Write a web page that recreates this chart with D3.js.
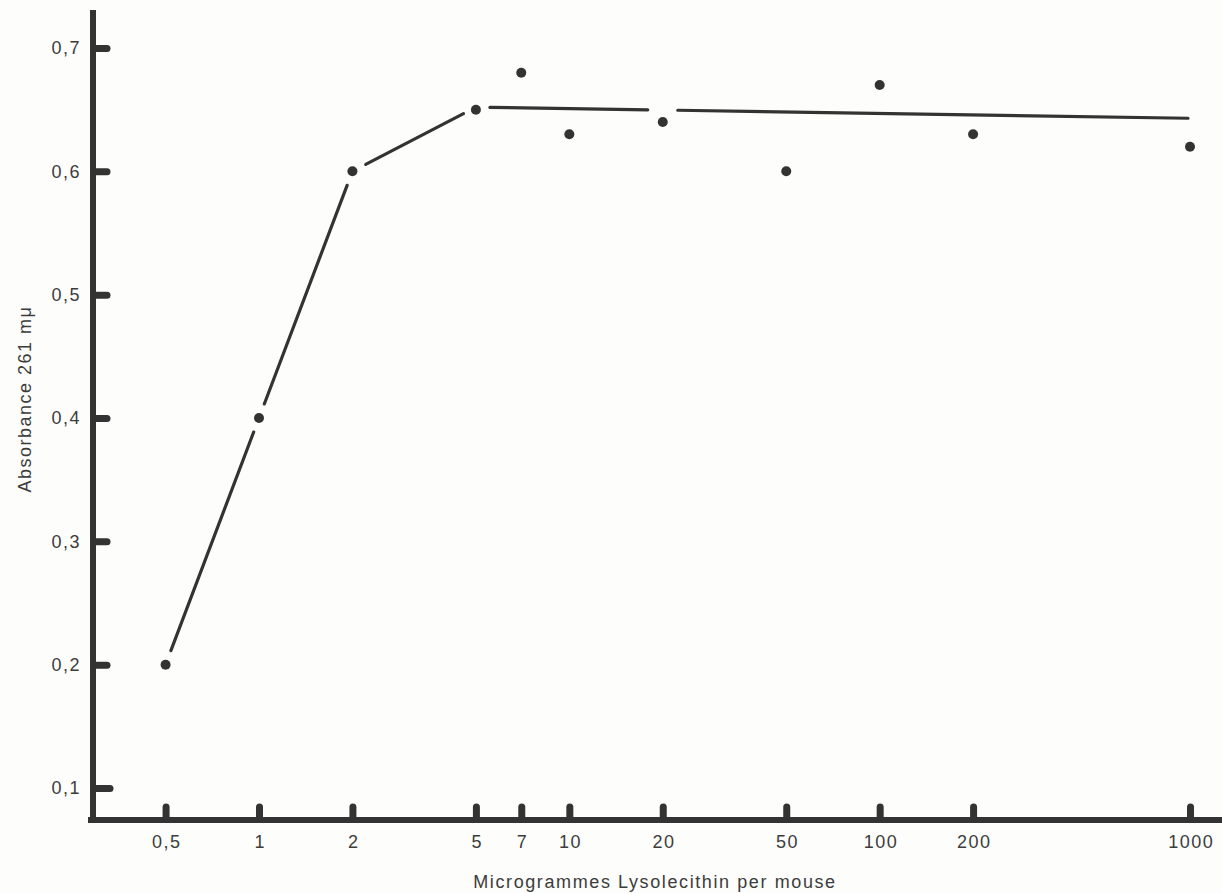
<!DOCTYPE html>
<html>
<head>
<meta charset="utf-8">
<script src="https://cdn.jsdelivr.net/npm/d3@7"></script>
<style>
  html, body { margin: 0; padding: 0; background: #fdfdfb; }
  svg { display: block; }
  text { font-family: "Liberation Sans", Arial, sans-serif; fill: #3c3c3c; }
</style>
</head>
<body>
<div id="chart"></div>
<script>
// measured doses (µg lysolecithin per mouse) and absorbance at 261 mµ
const doses = [0.5, 1, 2, 5, 7, 10, 20, 50, 100, 200, 1000];
const absorbance = [0.20, 0.40, 0.60, 0.65, 0.68, 0.63, 0.64, 0.60, 0.67, 0.63, 0.62];

// hand-drawn curve through the points
const curveDoses = [0.5, 1, 2, 5, 20, 1000];
const curveValues = [0.20, 0.40, 0.60, 0.652, 0.6497, 0.643];

const xTicks = [0.5, 1, 2, 5, 7, 10, 20, 50, 100, 200, 1000];
const yTicks = [0.1, 0.2, 0.3, 0.4, 0.5, 0.6, 0.7];

const xTitle = 'Microgrammes Lysolecithin per mouse';
const yTitle = 'Absorbance 261 mμ';

const width = 1222, height = 893;
const ink = '#333';

const svg = d3.select('#chart')
  .append('svg')
  .attr('width', width)
  .attr('height', height);

// scales
const x = d3.scaleLog().domain([1, 1000]).range([259, 1190]);
const y = d3.scaleLinear().domain([0.1, 0.7]).range([788, 48]);

const x0 = 93;      // left axis position
const yBase = 820;  // bottom axis position

// axis lines
svg.append('line')
  .attr('x1', x0).attr('x2', x0)
  .attr('y1', 10).attr('y2', yBase + 3)
  .attr('stroke', ink).attr('stroke-width', 6);

svg.append('line')
  .attr('x1', 88).attr('x2', width)
  .attr('y1', yBase).attr('y2', yBase)
  .attr('stroke', ink).attr('stroke-width', 6);

const fmt = d => String(d).replace('.', ',');

// y axis: short heavy stubs inside the frame
const yAxis = svg.append('g')
  .attr('transform', `translate(${x0},0)`)
  .call(d3.axisLeft(y).tickValues(yTicks).tickFormat(fmt)
    .tickSizeInner(-14).tickSizeOuter(0).tickPadding(12));
yAxis.select('.domain').remove();
yAxis.selectAll('.tick line')
  .attr('x1', 3)
  .attr('stroke', ink).attr('stroke-width', 7).attr('stroke-linecap', 'round');
yAxis.selectAll('.tick')
  .filter(d => d === 0.1)
  .select('line').attr('x2', 17);
yAxis.selectAll('.tick text')
  .attr('font-size', 18).attr('fill', '#3c3c3c')
  .style('letter-spacing', '1.5px');

// x axis: stubs pointing up from the base line
const xAxis = svg.append('g')
  .attr('transform', `translate(0,${yBase})`)
  .call(d3.axisBottom(x).tickValues(xTicks).tickFormat(fmt)
    .tickSizeInner(-13).tickSizeOuter(0).tickPadding(15));
xAxis.select('.domain').remove();
xAxis.selectAll('.tick line')
  .attr('y1', -3)
  .attr('stroke', ink).attr('stroke-width', 7).attr('stroke-linecap', 'round');
xAxis.selectAll('.tick text')
  .attr('font-size', 18).attr('fill', '#3c3c3c')
  .attr('dx', '0.75px')
  .style('letter-spacing', '1.5px');

// titles
svg.append('text')
  .attr('x', 655).attr('y', 888)
  .attr('text-anchor', 'middle')
  .attr('font-size', 18)
  .style('letter-spacing', '1.6px')
  .text(xTitle);

svg.append('text')
  .attr('transform', `translate(31,399) rotate(-90)`)
  .attr('text-anchor', 'middle')
  .attr('font-size', 18)
  .style('letter-spacing', '1.5px')
  .text(yTitle);

// curve drawn in pieces, leaving small gaps around the points
const gaps = [15, 15, 15, 14, 15, 2];
const pts = curveDoses.map((d, i) => [x(d), y(curveValues[i])]);
const segs = [];
for (let i = 0; i < pts.length - 1; i++) {
  const [ax, ay] = pts[i], [bx, by] = pts[i + 1];
  const len = Math.hypot(bx - ax, by - ay);
  const ux = (bx - ax) / len, uy = (by - ay) / len;
  segs.push([
    [ax + ux * gaps[i], ay + uy * gaps[i]],
    [bx - ux * gaps[i + 1], by - uy * gaps[i + 1]]
  ]);
}

svg.append('g')
  .selectAll('path')
  .data(segs)
  .enter()
  .append('path')
  .attr('d', d3.line())
  .attr('fill', 'none')
  .attr('stroke', ink)
  .attr('stroke-width', 3.2)
  .attr('stroke-linecap', 'round');

// data points
svg.append('g')
  .selectAll('circle')
  .data(doses)
  .enter()
  .append('circle')
  .attr('cx', d => x(d))
  .attr('cy', (d, i) => y(absorbance[i]))
  .attr('r', 5)
  .attr('fill', ink);
</script>
</body>
</html>
